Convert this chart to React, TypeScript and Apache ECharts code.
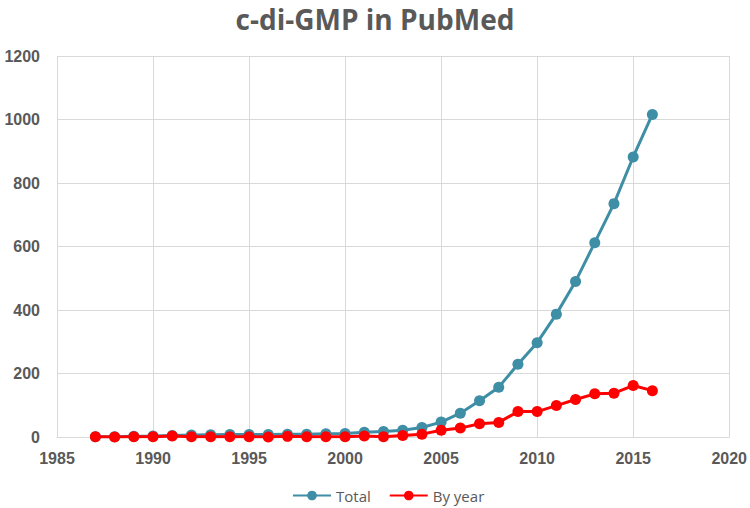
import React, { useEffect, useRef } from "react";
import * as echarts from "echarts";

const years = [1987, 1988, 1989, 1990, 1991, 1992, 1993, 1994, 1995, 1996, 1997, 1998, 1999, 2000, 2001, 2002, 2003, 2004, 2005, 2006, 2007, 2008, 2009, 2010, 2011, 2012, 2013, 2014, 2015, 2016];
const total = [1, 1, 2, 3, 5, 6, 7, 8, 8, 8, 9, 9, 10, 11, 15, 17, 21, 30, 47, 75, 114, 157, 229, 297, 387, 490, 612, 735, 882, 1016];
const byYear = [1, 0, 1, 1, 3, 1, 1, 1, 1, 0, 2, 1, 1, 1, 3, 1, 5, 9, 21, 28, 42, 46, 80, 80, 99, 118, 136, 138, 162, 146];
const xTicks = { min: 1985, max: 2020, interval: 5 };
const yTicks = { min: 0, max: 1200, interval: 200 };

export default function App() {
  const ref = useRef<HTMLDivElement>(null);
  useEffect(() => {
    if (!ref.current) return;
    const chart = echarts.init(ref.current, null, { renderer: "svg" });
    const labelStyle = { color: "#595959", fontSize: 16, fontWeight: "bold" as const, fontFamily: "Liberation Sans, Arial, sans-serif" };
    chart.setOption({
      animation: false,
      backgroundColor: "#ffffff",
      title: {
        text: "c-di-GMP in PubMed",
        left: "center",
        top: 0,
        textStyle: { color: "#595959", fontSize: 28, fontWeight: "bold", fontFamily: "Open Sans, Noto Sans, sans-serif" },
      },
      grid: { left: 57, right: 18, top: 56, bottom: 71 },
      xAxis: {
        type: "value",
        min: xTicks.min,
        max: xTicks.max,
        interval: xTicks.interval,
        axisLine: { show: true, lineStyle: { color: "#d9d9d9", width: 1 } },
        axisTick: { show: false },
        splitLine: { show: true, lineStyle: { color: "#d9d9d9", width: 1 } },
        axisLabel: { ...labelStyle, margin: 13, formatter: (v: number) => String(v) },
      },
      yAxis: {
        type: "value",
        min: yTicks.min,
        max: yTicks.max,
        interval: yTicks.interval,
        axisLine: { show: false },
        axisTick: { show: false },
        splitLine: { show: true, lineStyle: { color: "#d9d9d9", width: 1 } },
        axisLabel: { ...labelStyle, margin: 17, formatter: (v: number) => String(v) },
      },
      legend: {
        bottom: 0,
        left: 287,
        itemWidth: 38,
        itemHeight: 12,
        itemGap: 18,
        textStyle: { color: "#595959", fontSize: 15, fontFamily: "Open Sans, Noto Sans, sans-serif" },
        data: ["Total", "By year"],
      },
      series: [
        {
          name: "Total",
          type: "line",
          data: years.map((y, i) => [y, total[i]]),
          symbol: "circle",
          symbolSize: 11,
          itemStyle: { color: "#3E8EA5" },
          lineStyle: { color: "#3E8EA5", width: 3 },
          z: 2,
        },
        {
          name: "By year",
          type: "line",
          data: years.map((y, i) => [y, byYear[i]]),
          symbol: "circle",
          symbolSize: 11,
          itemStyle: { color: "#FF0000" },
          lineStyle: { color: "#FF0000", width: 3 },
          z: 3,
        },
      ],
    });
    return () => chart.dispose();
  }, []);
  return <div ref={ref} style={{ width: 750, height: 508, position: "absolute", left: 0, top: 0 }} />;
}
